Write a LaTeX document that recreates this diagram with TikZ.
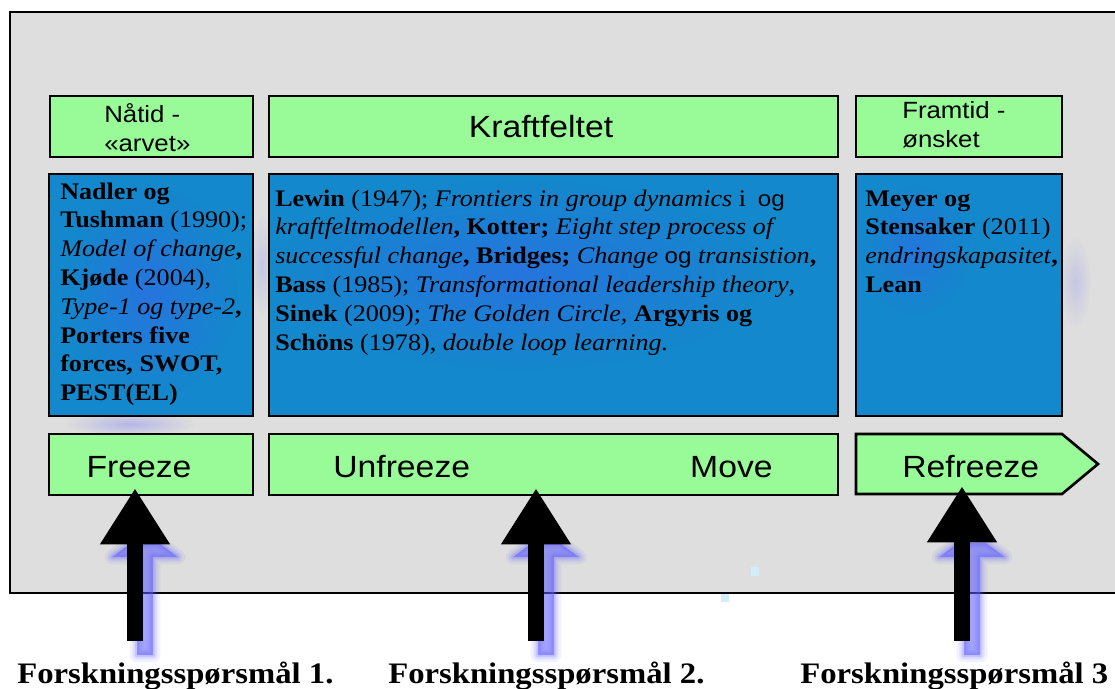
\documentclass[tikz,border=0pt]{standalone}
\usepackage{fontspec}
\setmainfont{Liberation Serif}[FakeStretch=1.1]
\newfontfamily\hsans{Liberation Sans}[FakeStretch=1.1]
\usetikzlibrary{arrows.meta,calc,fit,fadings}

\definecolor{panelgray}{HTML}{DEDEDE}
\definecolor{labelgreen}{HTML}{98FB98}
\definecolor{litblue}{HTML}{1488CC}
\definecolor{haloblue}{HTML}{2E6CE6}
\definecolor{glowblue}{HTML}{5A5AFF}
\definecolor{specks}{HTML}{D2EEF8}

\tikzfading[name=softspot, inner color=transparent!0, outer color=transparent!100]

\tikzset{
  greenbox/.style={draw=black, line width=2pt, fill=labelgreen, inner sep=0pt},
  bluebox/.style={draw=black, line width=2pt, fill=litblue, inner sep=0pt},
  headtxt/.style={anchor=base west, inner sep=0pt, font=\hsans\fontsize{17.6}{22.3}\selectfont},
  bigtxt/.style={inner sep=0pt, font=\hsans\fontsize{23}{27}\selectfont},
  reftxt/.style={anchor=base west, inner sep=0pt, font=\fontsize{17.8}{21.6}\selectfont},
  qtxt/.style={anchor=base west, inner sep=0pt, font=\bfseries\fontsize{22.3}{26}\selectfont},
  bigarrow/.style={line width=12pt, -{Triangle[width=49.5pt,length=42pt]}},
  halo/.style={haloblue, path fading=softspot},
}

% sans "og" set a little smaller inside the serif reference lists
\newcommand\sansog{{\hsans\fontsize{16.5}{21.6}\selectfont og}}

% soft blue shadow behind an upright block arrow whose shaft ends at #1
\newcommand\arrowglow[1]{%
  \begin{scope}[shift={(#1)}, shift={(10,14)}]
    \foreach \lw/\op in {11pt/0.08, 7pt/0.12, 3.5pt/0.18} {
      \draw[glowblue, opacity=\op, line width=\lw, line join=round]
        (-14,-112) -- (14,-112) -- (33,-98) -- (8,-98) -- (8,0) -- (-8,0) -- (-8,-98) -- (-33,-98) -- cycle;
    }
    \fill[glowblue, opacity=0.55]
      (-14,-112) -- (14,-112) -- (33,-98) -- (8,-98) -- (8,0) -- (-8,0) -- (-8,-98) -- (-33,-98) -- cycle;
  \end{scope}}

\begin{document}
\begin{tikzpicture}[x=0.75pt, y=-0.75pt]
\useasboundingbox (0,0) rectangle (1115,689);
\clip (0,0) rectangle (1115,689);

% grey panel
\node[draw=black, line width=2pt, fill=panelgray, inner sep=0pt,
      fit={(10,12) (1135,593)}] (panel) {};

% shaft ends of the three question arrows
\coordinate (a1) at (135,641);
\coordinate (a2) at (536,641);
\coordinate (a3) at (962,641);

\arrowglow{a1}
\arrowglow{a2}
\arrowglow{a3}

% faint haze spilling around the literature boxes
\fill[glowblue, path fading=softspot, opacity=0.30] (130,424) ellipse (65 and 12);
\fill[glowblue, path fading=softspot, opacity=0.18] (262,265) ellipse (12 and 50);
\fill[glowblue, path fading=softspot, opacity=0.18] (1075,282) ellipse (16 and 45);

% literature boxes
\node[bluebox, fit={(49,174) (253,416)}] (litnow) {};
\node[bluebox, fit={(269,174) (838,416)}] (litfield) {};
\node[bluebox, fit={(856,174) (1062,416)}] (litfuture) {};

\fill[halo, opacity=0.7] (150,292) ellipse (88 and 105);
\fill[halo, opacity=0.7] (520,275) ellipse (245 and 95);
\fill[halo, opacity=0.6] (915,250) ellipse (55 and 65);

% headers
\node[greenbox, fit={(50,96) (253,157)}] (now) {};
\node[greenbox, fit={(269,96) (838,157)}] (field) {};
\node[greenbox, fit={(856,96) (1062,157)}] (future) {};

% phases
\node[greenbox, fit={(49,434) (253,495)}] (freeze) {};
\node[greenbox, fit={(269,434) (838,495)}] (unfreeze) {};
\draw[line width=2pt, fill=labelgreen, line join=miter]
  (856,434) -- (1062,434) -- (1098,464) -- (1062,494) -- (856,494) -- cycle;
\node[inner sep=0pt, fit={(856,434) (1062,494)}] (refreeze) {};

% header texts
\node[headtxt] (nowtxt) at (104,122) {\begin{tabular}[t]{@{}l@{}}Nåtid -\\«arvet»\end{tabular}};
\node[headtxt] (futuretxt) at (902,118) {\begin{tabular}[t]{@{}l@{}}Framtid -\\ønsket\end{tabular}};
\node[bigtxt, anchor=base] (fieldtxt) at (541,137) {Kraftfeltet};

% phase texts
\node[bigtxt, anchor=base] (freezetxt) at (139,477) {Freeze};
\node[bigtxt, anchor=base west] (unfreezetxt) at (333,477) {Unfreeze};
\node[bigtxt, anchor=base east] (movetxt) at (773,477) {Move};
\node[bigtxt, anchor=base west] (refreezetxt) at (902,477) {Refreeze};

% literature texts
\node[reftxt] (nowlit) at (60,199) {\begin{tabular}[t]{@{}l@{}}
\textbf{Nadler og}\\
\textbf{Tushman} (1990);\\
\textit{Model of change}\textbf{,}\\
\textbf{Kjøde} (2004),\\
\textit{Type-1 og type-2}\textbf{,}\\
\textbf{Porters five}\\
\textbf{forces, SWOT,}\\
\textbf{PEST(EL)}
\end{tabular}};

\node[reftxt] (fieldlit) at (275,206) {\begin{tabular}[t]{@{}l@{}}
\textbf{Lewin} (1947); \textit{Frontiers in group dynamics} i\enspace\sansog\\
\textit{kraftfeltmodellen}\textbf{, Kotter;} \textit{Eight step process of}\\
\textit{successful change}\textbf{, Bridges;} \textit{Change} \sansog{} \textit{transistion}\textbf{,}\\
\textbf{Bass} (1985); \textit{Transformational leadership theory},\\
\textbf{Sinek} (2009); \textit{The Golden Circle,} \textbf{Argyris og}\\
\textbf{Schöns} (1978), \textit{double loop learning.}
\end{tabular}};

\node[reftxt] (futurelit) at (865,206) {\begin{tabular}[t]{@{}l@{}}
\textbf{Meyer og}\\
\textbf{Stensaker} (2011)\\
\textit{endringskapasitet}\textbf{,}\\
\textbf{Lean}
\end{tabular}};

% stray light specks
\fill[specks] (751,567) rectangle (759,576);
\fill[specks] (721,594) rectangle (729,602);

% research questions
\node[qtxt] (q1) at (17,683) {Forskningsspørsmål 1.};
\node[qtxt] (q2) at (388,683) {Forskningsspørsmål 2.};
\node[qtxt] (q3) at (800,683) {Forskningsspørsmål 3};

\draw[bigarrow] (a1) -- ($(a1 |- freeze.south)+(0,-8)$);
\draw[bigarrow] (a2) -- ($(a2 |- unfreeze.south)+(0,-8)$);
\draw[bigarrow] (a3) -- ($(a3 |- refreeze.south)+(0,-8)$);
\end{tikzpicture}
\end{document}
